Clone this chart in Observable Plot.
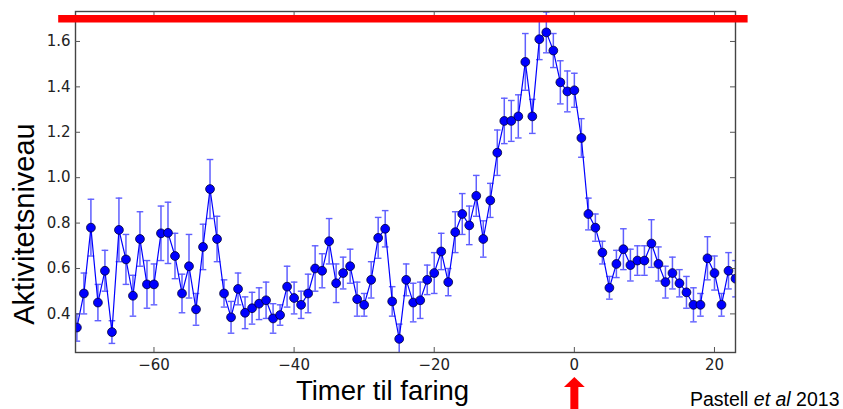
<!DOCTYPE html>
<html>
<head>
<meta charset="utf-8">
<script src="https://cdn.jsdelivr.net/npm/d3@7"></script>
<script src="https://cdn.jsdelivr.net/npm/@observablehq/plot@0.6"></script>
<style>
  html, body { margin: 0; padding: 0; background: #fff; }
  #chart svg { display: block; }
</style>
</head>
<body>
<div id="chart"></div>
<script>
// Hours relative to farrowing
const hours = [
  -71,-70,-69,-68,-67,-66,-65,-64,-63,-62,-61,-60,-59,-58,-57,-56,-55,-54,-53,-52,
  -51,-50,-49,-48,-47,-46,-45,-44,-43,-42,-41,-40,-39,-38,-37,-36,-35,-34,-33,-32,
  -31,-30,-29,-28,-27,-26,-25,-24,-23,-22,-21,-20,-19,-18,-17,-16,-15,-14,-13,-12,
  -11,-10,-9,-8,-7,-6,-5,-4,-3,-2,-1,0,1,2,3,4,5,6,7,8,
  9,10,11,12,13,14,15,16,17,18,19,20,21,22,23
];
// Activity level (mean)
const activity = [
  0.34,0.49,0.78,0.45,0.59,0.32,0.77,0.64,0.48,0.73,0.53,0.53,0.755,0.757,0.655,0.49,0.61,0.42,0.695,0.95,
  0.73,0.49,0.385,0.51,0.405,0.425,0.445,0.46,0.38,0.395,0.52,0.47,0.44,0.49,0.60,0.59,0.72,0.535,0.58,0.61,
  0.465,0.44,0.55,0.735,0.775,0.455,0.29,0.55,0.45,0.46,0.55,0.58,0.675,0.54,0.76,0.84,0.79,0.92,0.73,0.90,
  1.11,1.25,1.25,1.27,1.51,1.27,1.61,1.64,1.56,1.42,1.38,1.385,1.175,0.84,0.78,0.67,0.515,0.62,0.685,0.615,
  0.635,0.635,0.71,0.62,0.54,0.58,0.535,0.495,0.44,0.44,0.645,0.58,0.44,0.59,0.555
];
// Error (half bar length)
const errors = [
  0.06,0.09,0.125,0.08,0.09,0.05,0.14,0.11,0.09,0.12,0.105,0.09,0.12,0.135,0.10,0.085,0.14,0.07,0.10,0.13,
  0.10,0.06,0.07,0.07,0.07,0.07,0.07,0.08,0.065,0.045,0.09,0.07,0.06,0.085,0.10,0.075,0.10,0.085,0.07,0.075,
  0.075,0.05,0.08,0.09,0.08,0.065,0.065,0.07,0.085,0.08,0.065,0.09,0.08,0.06,0.09,0.09,0.085,0.09,0.08,0.075,
  0.10,0.10,0.09,0.095,0.125,0.075,0.09,0.09,0.075,0.095,0.09,0.075,0.085,0.07,0.06,0.05,0.05,0.06,0.09,0.07,
  0.065,0.065,0.105,0.075,0.07,0.07,0.06,0.07,0.075,0.05,0.095,0.075,0.05,0.08,0.08
];
const xTicks = [-60, -40, -20, 0, 20];
const yTicks = [0.4, 0.6, 0.8, 1.0, 1.2, 1.4, 1.6];
const xLabel = "Timer til faring";
const yLabel = "Aktivitetsniveau";
const sourceText = "Pastell et al 2013";
// Annotations (data units)
const redLine = [{y: 1.70, x1: -73.6, x2: 24.8}];
const arrowShaft = [{x: 0, y1: -0.05, y2: 0.085}];
const arrowHead = [{x: 0, y: 0.100}];

const data = hours.map((h, i) => ({h, v: activity[i], e: errors[i]}));

const W = 843, H = 409;
const mL = 75, mR = 108, mT = 11, mB = 57;
const fw = W - mL - mR, fh = H - mT - mB;

const capSymbol = {
  draw(context, size) {
    const r = Math.sqrt(size / Math.PI);
    context.moveTo(-r, 0);
    context.lineTo(r, 0);
  }
};
const headSymbol = {
  draw(context, size) {
    const r = Math.sqrt(size / Math.PI);
    context.moveTo(0, -r * 0.48);
    context.lineTo(r, r * 0.48);
    context.lineTo(-r, r * 0.48);
    context.closePath();
  }
};

const blue = "#0000ff";
const barColor = "#5f5fff";
const sans = "Liberation Sans, Arial, sans-serif";

const svg = Plot.plot({
  width: W,
  height: H,
  marginLeft: mL,
  marginRight: mR,
  marginTop: mT,
  marginBottom: mB,
  style: {fontFamily: "DejaVu Sans, sans-serif", background: "#fff", overflow: "visible"},
  x: {domain: [-71.2, 23.0]},
  y: {domain: [0.230, 1.732]},
  marks: [
    // error bars
    Plot.ruleX(data, {x: "h", y1: d => d.v - d.e, y2: d => d.v + d.e, stroke: barColor, strokeWidth: 1.5, clip: true}),
    Plot.dot(data, {x: "h", y: d => d.v + d.e, symbol: capSymbol, r: 3.3, stroke: barColor, strokeWidth: 1.4, clip: true}),
    Plot.dot(data, {x: "h", y: d => d.v - d.e, symbol: capSymbol, r: 3.3, stroke: barColor, strokeWidth: 1.4, clip: true}),
    // line
    Plot.line(data, {x: "h", y: "v", stroke: blue, strokeWidth: 1.2, clip: true}),
    // markers
    Plot.dot(data, {x: "h", y: "v", r: 4.4, fill: blue, stroke: "#000033", strokeWidth: 0.8, clip: true}),
    // frame
    Plot.frame({stroke: "#444", strokeWidth: 1.4}),
    // inward ticks
    Plot.tickX(xTicks, {x: d => d, insetTop: fh - 5, stroke: "#555", strokeWidth: 1}),
    Plot.tickX(xTicks, {x: d => d, insetBottom: fh - 5, stroke: "#555", strokeWidth: 1}),
    Plot.tickY(yTicks, {y: d => d, insetRight: fw - 5, stroke: "#555", strokeWidth: 1}),
    Plot.tickY(yTicks, {y: d => d, insetLeft: fw - 5, stroke: "#555", strokeWidth: 1}),
    // tick labels
    Plot.axisX(xTicks, {anchor: "bottom", tickSize: 0, tickPadding: 7, tickFormat: d3.format("d"), fontSize: 15, fill: "#222", label: null}),
    Plot.axisY(yTicks, {anchor: "left", tickSize: 0, tickPadding: 5, tickFormat: d3.format(".1f"), fontSize: 15, fill: "#222", label: null}),
    // axis titles
    Plot.text([xLabel], {text: d => d, frameAnchor: "bottom", textAnchor: "middle", dx: -23, dy: 39, fontSize: 27.5, fontFamily: sans, fill: "#000", lineAnchor: "middle"}),
    Plot.text([yLabel], {text: d => d, frameAnchor: "left", textAnchor: "middle", dx: -51, dy: 42, rotate: -90, fontSize: 29, fontFamily: sans, fill: "#000", lineAnchor: "middle"}),
    Plot.text([sourceText], {text: d => d, frameAnchor: "bottom-right", dx: 104, dy: 47, textAnchor: "end", fontSize: 19.5, fontFamily: sans, fill: "#000", lineAnchor: "middle"}),
    // red reference line
    Plot.ruleY(redLine, {y: "y", x1: "x1", x2: "x2", stroke: "#ff0000", strokeWidth: 7.7}),
    // red arrow
    Plot.ruleX(arrowShaft, {x: "x", y1: "y1", y2: "y2", stroke: "#ff0000", strokeWidth: 8}),
    Plot.dot(arrowHead, {x: "x", y: "y", symbol: headSymbol, r: 10.4, fill: "#ff0000", stroke: "none"})
  ]
});

// italicise "et al" in the source note
d3.select(svg).selectAll("text").filter(function() { return this.textContent === sourceText; })
  .each(function() {
    const t = d3.select(this);
    t.text(null);
    t.append("tspan").text("Pastell ");
    t.append("tspan").attr("font-style", "italic").text("et al");
    t.append("tspan").text(" 2013");
  });

document.getElementById("chart").appendChild(svg);
</script>
</body>
</html>
